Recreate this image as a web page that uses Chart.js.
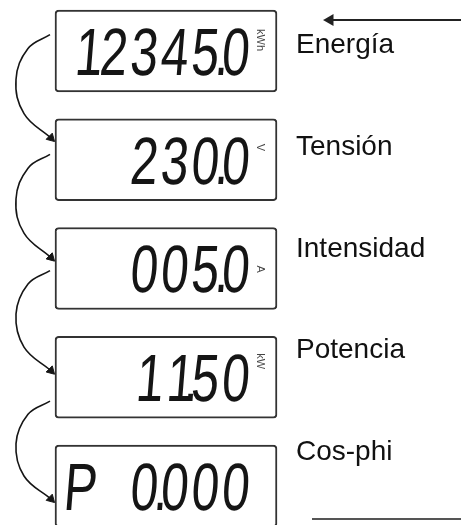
<!DOCTYPE html>
<html>
<head>
<meta charset="utf-8">
<script src="https://cdn.jsdelivr.net/npm/chart.js@4/dist/chart.umd.min.js"></script>
<style>
  html, body { margin: 0; padding: 0; background: #fff; }
  #wrap { width: 461px; height: 525px; position: relative; }
</style>
</head>
<body>
<div id="wrap"><canvas id="meter"></canvas></div>
<script>
// what the meter cycles through, top to bottom
var panelLabels = ['Energía', 'Tensión', 'Intensidad', 'Potencia', 'Cos-phi'];
var readings = ['12345.0', '230.0', '005.0', '11.50', 'P 0.000'];
var units = ['kWh', 'V', 'A', 'kW', ''];

// layout (x in px units of the x scale, y in panel-index units)
var BOX_LEFT = 55, BOX_RIGHT = 277;
var DIGITS_RIGHT = 248, DIGIT_PITCH = 30.5;
var LABEL_X = 296, LABEL_STEP = 0.936, LABEL_SHIFT = 0.018;
var UNIT_X = 257, UNIT_DY = [-22, -16, -3, -24, 0];
var LINK_FROM = [-0.15, -0.05, 0.02, 0.22];
var LINK_TO = [-0.17, -0.07, -0.03, 0.15];

var ink = '#151515';

var datasets = [{
  type: 'bar',
  indexAxis: 'y',
  data: readings.map(function (r, i) { return { x: [BOX_LEFT, BOX_RIGHT], y: i }; }),
  barThickness: 82,
  backgroundColor: '#fff',
  borderColor: '#333',
  borderWidth: 2,
  borderRadius: 4,
  borderSkipped: false,
  clip: false,
  order: 2
}];

// curved arrows from one panel to the next
for (var k = 0; k < readings.length - 1; k++) {
  var y0 = k + LINK_FROM[k];
  var y1 = k + 1 + LINK_TO[k];
  var d = y1 - y0;
  datasets.push({
    type: 'line',
    data: [
      { x: 50, y: y0 },
      { x: 28, y: y0 + 0.13 * d },
      { x: 16, y: y0 + 0.42 * d },
      { x: 24, y: y0 + 0.74 * d },
      { x: 51, y: y1 - 0.03 }
    ],
    borderColor: ink,
    borderWidth: 1.6,
    tension: 0.4,
    pointRadius: [0, 0, 0, 0, 5],
    pointStyle: 'triangle',
    pointRotation: 135,
    pointBackgroundColor: ink,
    pointBorderColor: ink,
    pointBorderWidth: 1,
    order: 1
  });
}

// arrow at top right and rule at bottom right
datasets.push({
  type: 'line',
  data: [{ x: 461, y: -0.285 }, { x: 330, y: -0.285 }],
  borderColor: '#222',
  borderWidth: 2,
  pointRadius: [0, 5],
  pointStyle: 'triangle',
  pointRotation: 270,
  pointBackgroundColor: '#222',
  pointBorderColor: '#222',
  order: 1
});
datasets.push({
  type: 'line',
  data: [{ x: 312, y: 4.303 }, { x: 461, y: 4.303 }],
  borderColor: '#555',
  borderWidth: 2,
  pointRadius: 0,
  order: 1
});

function drawReading(ctx, text, rightX, base) {
  var cells = [];
  for (var i = 0; i < text.length; i++) {
    var ch = text[i];
    if (ch === '.' && cells.length) cells[cells.length - 1].dp = true;
    else cells.push({ ch: ch, dp: false });
  }
  var n = cells.length;
  ctx.font = '67px "Liberation Sans", Arial, sans-serif';
  ctx.fillStyle = ink;
  ctx.textBaseline = 'alphabetic';
  cells.forEach(function (c, j) {
    var right = rightX - (n - 1 - j) * DIGIT_PITCH;
    ctx.save();
    ctx.translate(right, base);
    ctx.transform(0.74, 0, -0.08, 1, 0, 0);
    ctx.textAlign = 'right';
    if (c.ch !== ' ') ctx.fillText(c.ch, c.ch === '1' ? 8 : 0, 0);
    if (c.dp) {
      ctx.textAlign = 'left';
      ctx.fillText('.', -5, 0);
    }
    ctx.restore();
  });
}

var textPlugin = {
  id: 'meterText',
  afterDatasetsDraw: function (chart) {
    var ctx = chart.ctx;
    var xs = chart.scales.x, ys = chart.scales.y;
    panelLabels.forEach(function (lab, i) {
      var cy = ys.getPixelForValue(i);
      ctx.save();
      ctx.font = '28px "Liberation Sans", Arial, sans-serif';
      ctx.fillStyle = '#111';
      ctx.textAlign = 'left';
      ctx.textBaseline = 'alphabetic';
      ctx.fillText(lab, xs.getPixelForValue(LABEL_X), ys.getPixelForValue(i * LABEL_STEP + LABEL_SHIFT));
      ctx.restore();

      ctx.save();
      drawReading(ctx, readings[i], xs.getPixelForValue(DIGITS_RIGHT), cy + 24);
      ctx.restore();

      if (units[i]) {
        ctx.save();
        ctx.font = '11px "Liberation Sans", Arial, sans-serif';
        ctx.fillStyle = '#444';
        ctx.textAlign = 'left';
        ctx.textBaseline = 'alphabetic';
        ctx.translate(xs.getPixelForValue(UNIT_X), cy + UNIT_DY[i]);
        ctx.rotate(Math.PI / 2);
        ctx.fillText(units[i], 0, 0);
        ctx.restore();
      }
    });
  }
};

new Chart(document.getElementById('meter'), {
  type: 'bar',
  data: { datasets: datasets },
  options: {
    responsive: true,
    maintainAspectRatio: false,
    animation: false,
    events: [],
    layout: { padding: 0, autoPadding: false },
    plugins: { legend: { display: false }, tooltip: { enabled: false } },
    scales: {
      x: { type: 'linear', min: 0, max: 461, offset: false, grid: { offset: false }, display: false },
      y: { type: 'linear', min: -0.469, max: 4.359, reverse: true, offset: false, grid: { offset: false }, display: false }
    }
  },
  plugins: [textPlugin]
});
</script>
</body>
</html>
